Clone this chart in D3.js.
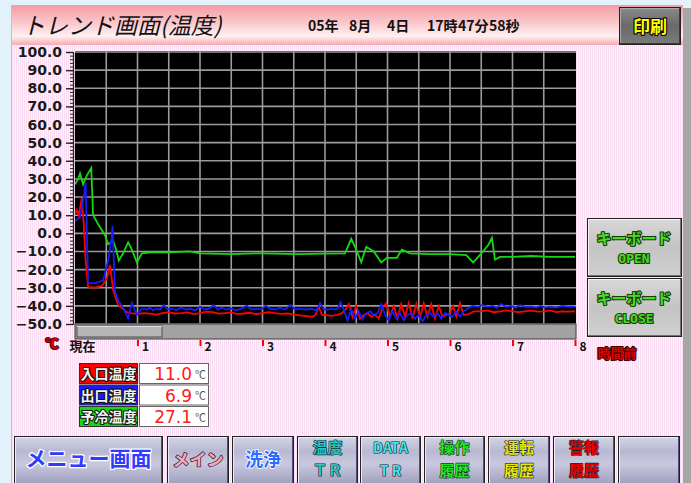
<!DOCTYPE html>
<html lang="ja">
<head>
<meta charset="utf-8">
<title>トレンド画面(温度)</title>
<script src="https://cdn.jsdelivr.net/npm/d3@7"></script>
<style>
  body{margin:0;padding:0;background:#e3f1fb;}
  svg{display:block;}
  text{font-family:"Noto Sans CJK JP","DejaVu Sans",sans-serif;}
</style>
</head>
<body>
<div id="screen"></div>
<script>
// ---- data (hours ago, temperature) ----
var hourTicks = [0,1,2,3,4,5,6,7,8]
var hourLabels = ["現在","1","2","3","4","5","6","7","8"]
var tempTicks = [100,90,80,70,60,50,40,30,20,10,0,-10,-20,-30,-40,-50]

var inletTemp = [[0,11],[0.03,13],[0.06,10],[0.11,19.5],[0.14,5],[0.17,-15],[0.21,-29.5],[0.32,-30],[0.43,-29],[0.51,-25],[0.56,-17.5],[0.61,-31],[0.69,-39.5],[0.83,-43.5],
  [0.9,-44],[1.0,-44.5],[1.1,-44],[1.2,-44.3],[1.3,-44.8],[1.4,-44],[1.5,-43.5],[1.6,-44.2],[1.7,-44],[1.8,-43.6],[1.9,-44.5],[2.0,-44],[2.1,-43.2],[2.2,-43.5],[2.3,-44.3],[2.4,-44],[2.5,-43.6],[2.6,-44.5],[2.7,-44.2],[2.8,-43.8],[2.9,-44.6],[3.0,-44],[3.1,-43.5],[3.2,-44],[3.3,-44.4],[3.4,-44.2],[3.5,-44.8],[3.6,-45.3],[3.7,-45.6],[3.8,-46],[3.85,-45],[3.9,-40.5],[3.95,-45],
  [4.0,-45],[4.1,-45.5],[4.2,-45],[4.27,-44],[4.33,-42],[4.38,-39],[4.44,-46],[4.5,-40],[4.56,-47],[4.62,-45],[4.68,-44],[4.74,-46],[4.8,-45],[4.86,-47],[4.92,-41],[4.98,-38.5],[5.04,-46],[5.1,-40],[5.16,-47],[5.22,-39],[5.28,-46],[5.34,-38.5],[5.4,-47],[5.46,-39],[5.52,-46.5],[5.58,-38.5],[5.64,-46],[5.7,-39],[5.76,-47],[5.82,-40],[5.88,-46],[5.94,-45],[6.0,-44],[6.05,-40],[6.1,-46],[6.16,-38.5],[6.22,-45],[6.3,-44.5],[6.38,-43],
  [6.5,-43],[6.6,-42.5],[6.7,-43.5],[6.8,-43],[6.9,-42.5],[7.0,-43],[7.1,-43.5],[7.2,-43],[7.3,-42.6],[7.4,-43.2],[7.5,-43],[7.6,-42.5],[7.7,-43.4],[7.8,-43],[7.9,-43.2],[8.0,-43]]

var outletTemp = [[0,6.9],[0.05,8],[0.08,9],[0.14,20],[0.17,28],[0.21,-27.5],[0.32,-27.5],[0.45,-26],[0.53,-15],[0.59,-2],[0.6,4],[0.64,-32],[0.69,-37],[0.77,-41],[0.85,-47],[0.91,-38.5],[0.99,-45],[1.05,-42],[1.1,-41.5],
  [1.15,-42],[1.2,-41],[1.25,-42.5],[1.3,-41.5],[1.36,-42],[1.42,-39.5],[1.48,-42],[1.55,-41.5],[1.62,-42.3],[1.7,-41],[1.78,-42],[1.85,-41.5],[1.92,-42.5],[2.0,-40.5],[2.08,-42],[2.15,-41.5],[2.22,-39.5],[2.28,-42],[2.35,-41],[2.42,-42],[2.5,-41.5],[2.58,-42.5],[2.66,-41.5],[2.75,-40],[2.82,-42],[2.9,-41.5],[2.98,-42],[3.05,-40],[3.12,-41.5],[3.2,-42],[3.28,-41],[3.36,-42],[3.45,-39.5],[3.52,-42],[3.6,-41.5],[3.7,-42],[3.78,-41.5],[3.86,-42.5],[3.92,-38.5],[3.98,-42],
  [4.05,-42],[4.1,-41.5],[4.15,-42],[4.2,-41.5],[4.25,-38],[4.3,-42],[4.36,-48],[4.42,-42],[4.48,-47],[4.54,-43],[4.6,-47.5],[4.66,-44],[4.72,-43],[4.78,-45],[4.84,-44],[4.9,-39],[4.96,-45],[5.02,-48],[5.08,-43],[5.14,-47],[5.2,-44],[5.26,-48],[5.32,-45],[5.38,-44],[5.44,-47],[5.5,-45],[5.56,-48.5],[5.62,-45],[5.68,-44],[5.74,-46],[5.8,-44],[5.86,-47],[5.92,-44],[5.98,-45],[6.04,-46],[6.1,-43],[6.16,-46],[6.22,-43],[6.3,-41],[6.36,-40],
  [6.45,-40.5],[6.52,-39.5],[6.6,-40.5],[6.68,-40],[6.75,-41],[6.82,-39],[6.9,-40.5],[6.98,-40],[7.05,-41],[7.12,-39.5],[7.2,-40.5],[7.3,-40.5],[7.38,-41],[7.45,-40],[7.52,-41],[7.6,-40.5],[7.7,-41],[7.8,-40],[7.9,-40.5],[8.0,-40.5]]

var precoolTemp = [[0,27.1],[0.05,30],[0.08,33],[0.13,27],[0.19,32],[0.26,36],[0.29,10],[0.37,5],[0.48,-1],[0.53,-6],[0.61,-4],[0.66,-9],[0.70,-15],[0.77,-11],[0.85,-5],[0.91,-9],[0.99,-16],[1.07,-11],[1.2,-10.5],[1.5,-10.5],[1.84,-10],[2.0,-11],[2.5,-11.5],[2.96,-11],[3.6,-11.5],[4.0,-11.2],[4.32,-11],[4.42,-3],[4.5,-9],[4.58,-16],[4.66,-7.5],[4.78,-10],[4.9,-16],[4.99,-13.5],[5.15,-13.5],[5.23,-9],[5.36,-11],[5.68,-11.5],[6.0,-11.5],[6.26,-12],[6.37,-16],[6.53,-10],[6.62,-6],[6.67,-2.5],[6.72,-14.5],[6.8,-13],[7.0,-13],[7.3,-12.5],[7.6,-13],[8.0,-13]]

var seriesNames = ["入口温度","出口温度","予冷温度"]
var seriesColors = ["#ff0000","#1a1aff","#14d814"]
var currentValues = ["11.0","6.9","27.1"]

var menuButtons = [
  {label:["メニュー画面"], x0:14, x1:163, color:"#2f3cff", size:21},
  {label:["メイン"], x0:167, x1:229, color:"#f4a8bc", size:17},
  {label:["洗浄"], x0:232, x1:294, color:"#2e6cff", size:18},
  {label:["温度","ＴＲ"], x0:297, x1:358, color:"#20c8c0", size:15},
  {label:["DATA","T R"], x0:360, x1:421, color:"#40e4e4", size:14},
  {label:["操作","履歴"], x0:424, x1:485, color:"#22e622", size:15},
  {label:["運転","履歴"], x0:488, x1:550, color:"#e8e800", size:15},
  {label:["警報","履歴"], x0:553, x1:615, color:"#e80000", size:15},
  {label:[], x0:618, x1:680, color:"#000", size:15}
]

var W = 691, H = 483
var svg = d3.select("#screen").append("svg").attr("width",W).attr("height",H)
var defs = svg.append("defs")

// background stripes
var pat = defs.append("pattern").attr("id","stripe").attr("width",2).attr("height",2).attr("patternUnits","userSpaceOnUse")
pat.append("rect").attr("width",2).attr("height",2).attr("fill","#fff2fc")
pat.append("rect").attr("width",1).attr("height",2).attr("fill","#f9dcf2")

var tg = defs.append("linearGradient").attr("id","titleGrad").attr("x1",0).attr("y1",0).attr("x2",0).attr("y2",1)
tg.append("stop").attr("offset","0%").attr("stop-color","#f39ca3")
tg.append("stop").attr("offset","45%").attr("stop-color","#fac8cc")
tg.append("stop").attr("offset","78%").attr("stop-color","#fff0f0")
tg.append("stop").attr("offset","100%").attr("stop-color","#f6aab2")

var bg = defs.append("linearGradient").attr("id","btnGrad").attr("x1",0).attr("y1",0).attr("x2",0).attr("y2",1)
bg.append("stop").attr("offset","0%").attr("stop-color","#d6d6e8")
bg.append("stop").attr("offset","30%").attr("stop-color","#b8b8d2")
bg.append("stop").attr("offset","55%").attr("stop-color","#c8c8de")
bg.append("stop").attr("offset","100%").attr("stop-color","#9c9cbc")

var pg = defs.append("linearGradient").attr("id","printGrad").attr("x1",0).attr("y1",0).attr("x2",0).attr("y2",1)
pg.append("stop").attr("offset","0%").attr("stop-color","#8a8a8a")
pg.append("stop").attr("offset","50%").attr("stop-color","#6a6a6a")
pg.append("stop").attr("offset","100%").attr("stop-color","#7c7c7c")

var kg = defs.append("linearGradient").attr("id","keyGrad").attr("x1",0).attr("y1",0).attr("x2",0).attr("y2",1)
kg.append("stop").attr("offset","0%").attr("stop-color","#d8d8d8")
kg.append("stop").attr("offset","50%").attr("stop-color","#c4c4c4")
kg.append("stop").attr("offset","100%").attr("stop-color","#d0d0d0")

// outer screen
svg.append("rect").attr("width",W).attr("height",H).attr("fill","#e3f1fb")
svg.append("rect").attr("x",12).attr("y",5).attr("width",671).attr("height",H-5).attr("fill","url(#stripe)")
svg.append("rect").attr("x",683).attr("y",8).attr("width",8).attr("height",H-8).attr("fill","#a6a6a6")
svg.append("line").attr("x1",11.5).attr("x2",11.5).attr("y1",5).attr("y2",H).attr("stroke","#b4c4d0")

// title bar
svg.append("rect").attr("x",12).attr("y",5).attr("width",671).attr("height",40).attr("fill","url(#titleGrad)")
svg.append("text").attr("x",22).attr("y",34).attr("font-size",23).attr("font-style","italic")
  .attr("fill","#111").text("トレンド画面(温度)")
var dateParts = [["05年",308],["8月",349],["4日",387],["17時",427],["47分",458],["58秒",489]]
svg.selectAll(".datep").data(dateParts).enter().append("text")
  .attr("x",function(d){return d[1]}).attr("y",31).attr("font-size",14).attr("font-weight","bold")
  .attr("fill","#111").text(function(d){return d[0]})

function bevel(g,x,y,w,h,fill,light,dark){
  g.append("rect").attr("x",x).attr("y",y).attr("width",w).attr("height",h).attr("fill",fill)
  g.append("path").attr("d","M"+(x+1)+","+(y+h-1)+"V"+(y+1)+"H"+(x+w-1)).attr("fill","none").attr("stroke",light).attr("stroke-width",2)
  g.append("path").attr("d","M"+(x+1)+","+(y+h-1)+"H"+(x+w-1)+"V"+(y+1)).attr("fill","none").attr("stroke",dark).attr("stroke-width",2)
  g.append("rect").attr("x",x+0.5).attr("y",y+0.5).attr("width",w-1).attr("height",h-1).attr("fill","none").attr("stroke","#222")
}
function outlined(g,txt,x,y,size,fill,stroke,anchor,weight){
  return g.append("text").attr("x",x).attr("y",y).attr("font-size",size).attr("font-weight",weight||"bold")
    .attr("text-anchor",anchor||"middle").attr("fill",fill).attr("stroke",stroke).attr("stroke-width",2.2)
    .attr("paint-order","stroke").attr("stroke-linejoin","round").text(txt)
}

// print button
var pb = svg.append("g")
bevel(pb,619,7,62,38,"url(#printGrad)","#a8a8a8","#3a3a3a")
outlined(pb,"印刷",650,33,17,"#ffff00","#000")

// scales
var xScale = d3.scaleLinear().domain([0,8]).range([75,575])
var yScale = d3.scaleLinear().domain([-50,100]).range([324,52])

// plot area
var plot = svg.append("g")
plot.append("rect").attr("x",75).attr("y",51).attr("width",501).attr("height",273).attr("fill","#000")
plot.selectAll(".vgrid").data(d3.range(1,16).map(function(i){return i*0.5})).enter().append("line")
  .attr("x1",function(d){return xScale(d)}).attr("x2",function(d){return xScale(d)})
  .attr("y1",51).attr("y2",324).attr("stroke","#9a9a9a").attr("stroke-width",1.6)
plot.selectAll(".hgrid").data(tempTicks).enter().append("line")
  .attr("x1",75).attr("x2",576)
  .attr("y1",function(d){return yScale(d)}).attr("y2",function(d){return yScale(d)})
  .attr("stroke","#9a9a9a").attr("stroke-width",1.6)

defs.append("clipPath").attr("id","plotClip").append("rect").attr("x",75).attr("y",51).attr("width",501).attr("height",273)
var line = d3.line().x(function(d){return xScale(d[0])}).y(function(d){return yScale(d[1])})
var lines = plot.append("g").attr("clip-path","url(#plotClip)")
;[precoolTemp,inletTemp,outletTemp].forEach(function(s,i){
  var c = [seriesColors[2],seriesColors[0],seriesColors[1]][i]
  lines.append("path").datum(s).attr("d",line).attr("fill","none").attr("stroke",c).attr("stroke-width",1.8)
})

// y ruler
var yAxis = d3.axisLeft(yScale).tickValues(tempTicks).tickSize(7).tickFormat(function(d){return d3.format(".1f")(d).replace("-","−")})
var yg = svg.append("g").attr("transform","translate(73,0)").call(yAxis)
yg.select(".domain").attr("stroke","#222").attr("stroke-width",1.2)
yg.selectAll(".tick line").attr("stroke","#222").attr("stroke-width",1.4)
yg.selectAll(".tick text").attr("font-size",14).attr("font-weight","bold").attr("fill","#1a1a1a")
  .style("font-family","'DejaVu Sans',sans-serif").attr("dx",-1)
var minorAxis = d3.axisLeft(yScale).tickValues(d3.range(-50,101,2)).tickSize(3).tickFormat("")
var mg = svg.append("g").attr("transform","translate(73,0)").call(minorAxis)
mg.select(".domain").remove()
mg.selectAll(".tick line").attr("stroke","#222")
outlined(svg,"℃",52,348,13,"#e00000","#600000","middle")

// scroll bar
svg.append("rect").attr("x",75).attr("y",324).attr("width",501).attr("height",15).attr("fill","#a2a2a2").attr("stroke","#404040")
svg.append("rect").attr("x",77).attr("y",326).attr("width",85).attr("height",11).attr("fill","#b6b6b6").attr("stroke","#505050")
svg.append("line").attr("x1",77).attr("x2",162).attr("y1",326.5).attr("y2",326.5).attr("stroke","#e0e0e0")

// x axis
var xAxis = d3.axisBottom(xScale).tickValues(hourTicks).tickSize(6).tickFormat(function(d,i){return hourLabels[i]})
var xg = svg.append("g").attr("transform","translate(0,340)").call(xAxis)
xg.select(".domain").remove()
xg.selectAll(".tick line").attr("stroke","#ff0000").attr("stroke-width",2)
xg.selectAll(".tick text").attr("font-size",12).attr("font-weight","bold").attr("fill","#111")
  .attr("text-anchor","start").attr("dx",4).attr("dy",2)
xg.selectAll(".tick text").filter(function(d){return d===0}).attr("text-anchor","middle").attr("dx",7).attr("font-size",13)
outlined(svg,"時間前",617,358,13,"#e00000","#400000","middle")

// legend
var leg = svg.append("g")
seriesNames.forEach(function(n,i){
  var y = 363 + i*21.5
  leg.append("rect").attr("x",79.5).attr("y",y+0.5).attr("width",58).attr("height",20).attr("fill",seriesColors[i]).attr("stroke","#333")
  outlined(leg,n,108.5,y+16,14,"#f4f4f4","#111","middle")
  leg.append("rect").attr("x",139.5).attr("y",y+0.5).attr("width",69).attr("height",20).attr("fill","#fff").attr("stroke","#666")
  leg.append("text").attr("x",192).attr("y",y+17).attr("font-size",17).attr("text-anchor","end").attr("fill","#ff1a1a")
    .style("font-family","'DejaVu Sans',sans-serif").text(currentValues[i])
  leg.append("text").attr("x",195).attr("y",y+15.5).attr("font-size",11).attr("fill","#555").text("℃")
})

// keyboard buttons
;[["OPEN",218],["CLOSE",278]].forEach(function(b){
  var g = svg.append("g")
  bevel(g,587,b[1],95,59,"url(#keyGrad)","#f4f4f4","#707070")
  outlined(g,"キーボード",634,b[1]+26,15,"#44dd22","#1a3a10","middle")
  outlined(g,b[0],634,b[1]+45,13,"#44dd22","#1a3a10","middle").style("font-family","'DejaVu Sans Mono',monospace")
})

// menu buttons
menuButtons.forEach(function(b){
  var g = svg.append("g")
  bevel(g,b.x0,436,b.x1-b.x0,50,"url(#btnGrad)","#ececf8","#50507a")
  var cx = (b.x0+b.x1)/2
  if(b.label.length===1){
    outlined(g,b.label[0],cx,466,b.size,b.color,b.x0===167?"#402030":"#ffffff","middle")
      .attr("stroke-width",b.x0===14?2.5:1.6)
  }else if(b.label.length===2){
    outlined(g,b.label[0],cx,453,b.size,b.color,"#202030","middle").attr("stroke-width",1.2)
    outlined(g,b.label[1],cx,476,b.size,b.color,"#202030","middle").attr("stroke-width",1.2)
  }
})
</script>
</body>
</html>
